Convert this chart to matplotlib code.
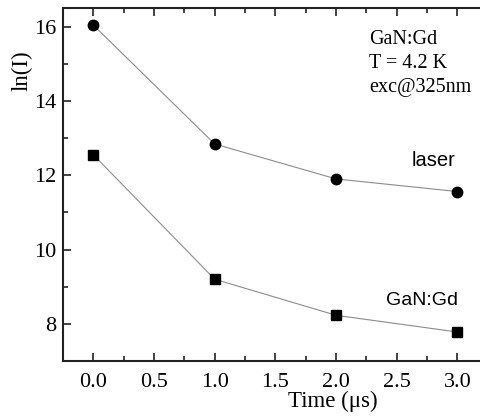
import matplotlib
matplotlib.use("Agg")
import matplotlib.pyplot as plt
from matplotlib.ticker import MultipleLocator

# data
time_us = [0.0, 1.0, 2.0, 3.0]
laser_ln = [16.04, 12.84, 11.90, 11.56]
gan_ln = [12.55, 9.20, 8.23, 7.78]
info_lines = ["GaN:Gd", "T = 4.2 K", "exc@325nm"]

serif = ["Liberation Serif", "DejaVu Serif"]
sans = ["Liberation Sans", "DejaVu Sans"]

fig = plt.figure(figsize=(4.8, 4.17), dpi=100)
ax = fig.add_axes((0.13125, 0.1343, 0.885, 0.8465))

ax.plot(time_us, laser_ln, color="#8c8c8c", lw=0.8, marker="o",
        ms=7.5, mfc="black", mec="black", zorder=3)
ax.plot(time_us, gan_ln, color="#8c8c8c", lw=0.8, marker="s",
        ms=6.8, mfc="black", mec="black", zorder=3)

ax.set_xlim(-0.25, 3.25)
ax.set_ylim(7.0, 16.5)
ax.xaxis.set_major_locator(MultipleLocator(0.5))
ax.xaxis.set_minor_locator(MultipleLocator(0.25))
ax.yaxis.set_major_locator(MultipleLocator(2))
ax.yaxis.set_minor_locator(MultipleLocator(1))
ax.xaxis.set_major_formatter(plt.FuncFormatter(lambda v, p: f"{v:.1f}"))

ax.tick_params(which="both", direction="in", top=True, right=False,
               width=1.2, color="#222222")
ax.tick_params(which="major", length=6)
ax.tick_params(which="minor", length=3.5)
ax.tick_params(axis="x", which="major", pad=9)
ax.tick_params(axis="y", which="major", pad=5)
for lab in ax.get_xticklabels() + ax.get_yticklabels():
    lab.set_fontfamily(serif)
    lab.set_fontsize(16)
for sp in ax.spines.values():
    sp.set_linewidth(1.5)
    sp.set_color("#222222")
ax.spines["right"].set_visible(False)

ax.set_xlabel("Time (\u03bcs)", fontfamily=serif, fontsize=16.5, labelpad=0)
ax.xaxis.set_label_coords(0.635, -0.085)
ax.set_ylabel("ln(I)", fontfamily=serif, fontsize=16.5, labelpad=1)
ax.yaxis.set_label_coords(-0.071, 0.823)

# info block in upper right
for i, line in enumerate(info_lines):
    ax.text(2.275, 15.52 - i * 0.635, line, fontfamily=serif, fontsize=14.5,
            ha="left", va="baseline")

ax.text(2.62, 12.25, "laser", fontfamily=sans, fontsize=14.5,
        ha="left", va="baseline")
ax.text(2.41, 8.5, "GaN:Gd", fontfamily=sans, fontsize=14,
        ha="left", va="baseline")

fig.savefig("out.png", dpi=100)
